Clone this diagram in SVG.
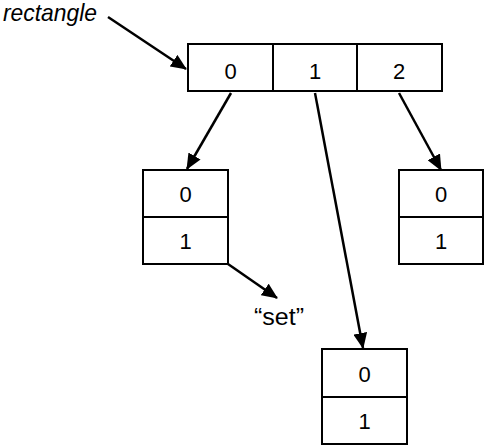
<svg xmlns="http://www.w3.org/2000/svg" width="487" height="447" viewBox="0 0 487 447">
<style>
.box{fill:#fff;stroke:#000;stroke-width:2}
.div{stroke:#000;stroke-width:2}
.num{font-family:"Liberation Sans",Arial,sans-serif;font-size:22px;text-anchor:middle;fill:#000}
.lbl{font-family:"Liberation Sans",Arial,sans-serif;font-size:24px;fill:#000}
.conn line{stroke:#000;stroke-width:2.5}
</style>
<defs>
<marker id="ah" markerWidth="16" markerHeight="14" refX="15" refY="7" orient="auto" markerUnits="userSpaceOnUse">
<path d="M0,0 L16,7 L0,14 z" fill="#000"/>
</marker>
</defs>
<rect width="487" height="447" fill="#fff"/>
<text class="lbl" x="3" y="21" font-style="italic" textLength="94" lengthAdjust="spacingAndGlyphs">rectangle</text>
<g id="array">
<rect class="box" x="188" y="44" width="254" height="47"/>
<line class="div" x1="273" y1="44" x2="273" y2="91"/>
<line class="div" x1="357" y1="44" x2="357" y2="91"/>
<text class="num" x="230.5" y="78.5">0</text>
<text class="num" x="315" y="78.5">1</text>
<text class="num" x="399" y="78.5">2</text>
</g>
<g id="boxLeft">
<rect class="box" x="143" y="170" width="85" height="94"/>
<line class="div" x1="143" y1="217" x2="228" y2="217"/>
<text class="num" x="185.5" y="201.5">0</text>
<text class="num" x="185.5" y="248.5">1</text>
</g>
<g id="boxRight">
<rect class="box" x="399" y="170" width="84" height="94"/>
<line class="div" x1="399" y1="217" x2="483" y2="217"/>
<text class="num" x="441" y="201.5">0</text>
<text class="num" x="441" y="248.5">1</text>
</g>
<g id="boxBottom">
<rect class="box" x="322" y="349" width="85" height="95"/>
<line class="div" x1="322" y1="397" x2="407" y2="397"/>
<text class="num" x="364.5" y="381.5">0</text>
<text class="num" x="364.5" y="428.5">1</text>
</g>
<text class="lbl" x="254" y="325" textLength="50" lengthAdjust="spacingAndGlyphs">“set”</text>
<g class="conn" id="connectors">
<line x1="108" y1="17" x2="186" y2="69" marker-end="url(#ah)"/>
<line x1="231" y1="93" x2="187" y2="169" marker-end="url(#ah)"/>
<line x1="315" y1="93" x2="363" y2="348" marker-end="url(#ah)"/>
<line x1="399" y1="93" x2="441" y2="170" marker-end="url(#ah)"/>
<line x1="228" y1="264" x2="277" y2="298" marker-end="url(#ah)"/>
</g>
</svg>
